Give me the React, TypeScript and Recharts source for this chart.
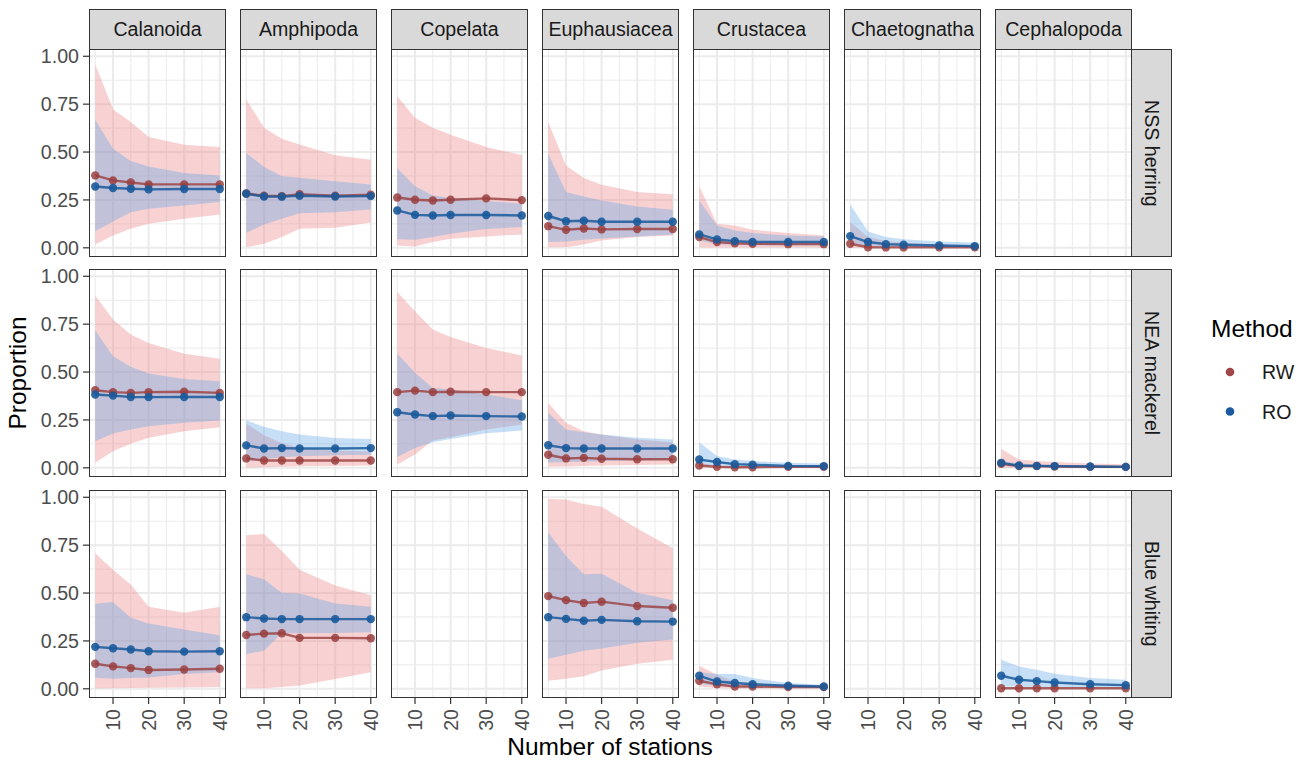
import React from "react";
import { ComposedChart, Area, Line, XAxis, YAxis, CartesianGrid } from "recharts";

// ---------- categories / ticks ----------
const stations = [5, 10, 15, 20, 30, 40];
const taxa = ["Calanoida", "Amphipoda", "Copelata", "Euphausiacea", "Crustacea", "Chaetognatha", "Cephalopoda"];
const stocks = ["NSS herring", "NEA mackerel", "Blue whiting"];
const methods = ["RW", "RO"];
const yTicks = [0, 0.25, 0.5, 0.75, 1];
const yMinor = [0.125, 0.375, 0.625, 0.875];
const xTicks = [10, 20, 30, 40];
const xMinor = [5, 15, 25, 35];

type Est = { mean: number[]; lo: number[]; hi: number[] };

// ---------- NSS herring ----------
const nssCalanoidaRW: Est = { mean: [0.378, 0.352, 0.341, 0.331, 0.331, 0.331], lo: [0.017, 0.064, 0.099, 0.125, 0.152, 0.174], hi: [0.958, 0.723, 0.657, 0.578, 0.538, 0.526] };
const nssCalanoidaRO: Est = { mean: [0.32, 0.312, 0.308, 0.305, 0.307, 0.307], lo: [0.087, 0.138, 0.186, 0.204, 0.221, 0.239], hi: [0.669, 0.517, 0.453, 0.425, 0.39, 0.378] };
const nssAmphipodaRW: Est = { mean: [0.284, 0.272, 0.27, 0.28, 0.272, 0.277], lo: [0.003, 0.021, 0.056, 0.099, 0.105, 0.132], hi: [0.774, 0.627, 0.57, 0.54, 0.483, 0.46] };
const nssAmphipodaRO: Est = { mean: [0.282, 0.268, 0.267, 0.272, 0.268, 0.27], lo: [0.078, 0.122, 0.152, 0.181, 0.186, 0.2], hi: [0.495, 0.422, 0.375, 0.366, 0.348, 0.331] };
const nssCopelataRW: Est = { mean: [0.263, 0.251, 0.247, 0.251, 0.258, 0.249], lo: [0.012, 0.007, 0.03, 0.047, 0.059, 0.07], hi: [0.791, 0.679, 0.627, 0.59, 0.526, 0.484] };
const nssCopelataRO: Est = { mean: [0.195, 0.172, 0.169, 0.171, 0.171, 0.169], lo: [0.045, 0.042, 0.056, 0.073, 0.098, 0.108], hi: [0.416, 0.322, 0.273, 0.261, 0.244, 0.23] };
const nssEuphausiaceaRW: Est = { mean: [0.113, 0.094, 0.101, 0.096, 0.098, 0.098], lo: [0.003, 0.003, 0.017, 0.038, 0.056, 0.064], hi: [0.657, 0.43, 0.364, 0.329, 0.291, 0.279] };
const nssEuphausiaceaRO: Est = { mean: [0.166, 0.139, 0.141, 0.136, 0.136, 0.136], lo: [0.03, 0.033, 0.042, 0.049, 0.059, 0.07], hi: [0.491, 0.291, 0.268, 0.247, 0.216, 0.199] };
const nssCrustaceaRW: Est = { mean: [0.056, 0.03, 0.024, 0.021, 0.019, 0.019], lo: [0.002, 0.002, 0.002, 0.002, 0.002, 0.002], hi: [0.322, 0.125, 0.117, 0.094, 0.077, 0.064] };
const nssCrustaceaRO: Est = { mean: [0.07, 0.044, 0.035, 0.031, 0.03, 0.03], lo: [0.038, 0.017, 0.017, 0.014, 0.014, 0.014], hi: [0.247, 0.117, 0.091, 0.077, 0.064, 0.059] };
const nssChaetognathaRW: Est = { mean: [0.021, 0.003, 0.002, 0.002, 0.003, 0.003], lo: [0, 0, 0, 0, 0, 0], hi: [0.134, 0.056, 0.035, 0.026, 0.017, 0.012] };
const nssChaetognathaRO: Est = { mean: [0.061, 0.03, 0.019, 0.016, 0.012, 0.009], lo: [0.024, 0.009, 0.006, 0.005, 0.005, 0.005], hi: [0.226, 0.085, 0.056, 0.045, 0.033, 0.028] };

// ---------- NEA mackerel ----------
const neaCalanoidaRW: Est = { mean: [0.405, 0.395, 0.391, 0.395, 0.397, 0.391], lo: [0.026, 0.087, 0.125, 0.157, 0.191, 0.212], hi: [0.899, 0.774, 0.696, 0.652, 0.595, 0.569] };
const neaCalanoidaRO: Est = { mean: [0.383, 0.377, 0.37, 0.369, 0.37, 0.37], lo: [0.139, 0.179, 0.2, 0.217, 0.235, 0.247], hi: [0.718, 0.583, 0.527, 0.492, 0.464, 0.452] };
const neaAmphipodaRW: Est = { mean: [0.049, 0.038, 0.038, 0.038, 0.038, 0.038], lo: [0, 0.003, 0.005, 0.008, 0.01, 0.012], hi: [0.23, 0.17, 0.13, 0.105, 0.09, 0.085] };
const neaAmphipodaRO: Est = { mean: [0.117, 0.101, 0.103, 0.101, 0.101, 0.103], lo: [0.03, 0.045, 0.055, 0.06, 0.065, 0.068], hi: [0.248, 0.214, 0.191, 0.174, 0.156, 0.151] };
const neaCopelataRW: Est = { mean: [0.395, 0.403, 0.395, 0.397, 0.395, 0.395], lo: [0.017, 0.07, 0.143, 0.16, 0.2, 0.226], hi: [0.918, 0.817, 0.722, 0.683, 0.626, 0.586] };
const neaCopelataRO: Est = { mean: [0.29, 0.278, 0.27, 0.273, 0.27, 0.268], lo: [0.057, 0.104, 0.134, 0.151, 0.18, 0.195], hi: [0.597, 0.496, 0.417, 0.409, 0.383, 0.353] };
const neaEuphausiaceaRW: Est = { mean: [0.068, 0.049, 0.052, 0.047, 0.045, 0.045], lo: [0.005, 0.007, 0.01, 0.012, 0.015, 0.017], hi: [0.339, 0.235, 0.191, 0.174, 0.148, 0.134] };
const neaEuphausiaceaRO: Est = { mean: [0.118, 0.103, 0.101, 0.101, 0.101, 0.101], lo: [0.026, 0.03, 0.032, 0.035, 0.04, 0.043], hi: [0.287, 0.2, 0.186, 0.174, 0.157, 0.148] };
const neaCrustaceaRW: Est = { mean: [0.012, 0.005, 0.003, 0.003, 0.005, 0.005], lo: [0, 0, 0, 0, 0, 0], hi: [0.026, 0.012, 0.011, 0.01, 0.01, 0.01] };
const neaCrustaceaRO: Est = { mean: [0.043, 0.03, 0.019, 0.016, 0.01, 0.009], lo: [0.017, 0.008, 0.006, 0.005, 0.005, 0.005], hi: [0.134, 0.061, 0.043, 0.035, 0.026, 0.023] };
const neaCephalopodaRW: Est = { mean: [0.021, 0.009, 0.009, 0.007, 0.005, 0.005], lo: [0, 0, 0, 0, 0, 0], hi: [0.099, 0.043, 0.035, 0.03, 0.023, 0.019] };
const neaCephalopodaRO: Est = { mean: [0.026, 0.012, 0.01, 0.009, 0.007, 0.005], lo: [0.012, 0.005, 0.004, 0.003, 0.002, 0.001], hi: [0.035, 0.023, 0.018, 0.015, 0.013, 0.012] };

// ---------- Blue whiting ----------
const bwCalanoidaRW: Est = { mean: [0.131, 0.117, 0.108, 0.098, 0.101, 0.105], lo: [0.002, 0.003, 0.004, 0.005, 0.007, 0.009], hi: [0.708, 0.621, 0.545, 0.428, 0.397, 0.428] };
const bwCalanoidaRO: Est = { mean: [0.219, 0.212, 0.205, 0.196, 0.194, 0.196], lo: [0.058, 0.052, 0.056, 0.059, 0.077, 0.086], hi: [0.444, 0.453, 0.371, 0.341, 0.309, 0.28] };
const bwAmphipodaRW: Est = { mean: [0.281, 0.288, 0.29, 0.266, 0.266, 0.264], lo: [0.003, 0.003, 0.009, 0.017, 0.051, 0.087], hi: [0.802, 0.808, 0.72, 0.621, 0.54, 0.488] };
const bwAmphipodaRO: Est = { mean: [0.374, 0.367, 0.364, 0.364, 0.364, 0.364], lo: [0.182, 0.199, 0.292, 0.29, 0.291, 0.295], hi: [0.598, 0.572, 0.502, 0.498, 0.446, 0.428] };
const bwEuphausiaceaRW: Est = { mean: [0.484, 0.463, 0.448, 0.455, 0.432, 0.423], lo: [0.042, 0.052, 0.065, 0.096, 0.131, 0.152], hi: [0.991, 0.988, 0.965, 0.951, 0.837, 0.734] };
const bwEuphausiaceaRO: Est = { mean: [0.374, 0.365, 0.355, 0.36, 0.353, 0.351], lo: [0.157, 0.178, 0.199, 0.21, 0.24, 0.257], hi: [0.816, 0.694, 0.598, 0.601, 0.502, 0.463] };
const bwCrustaceaRW: Est = { mean: [0.042, 0.023, 0.012, 0.012, 0.009, 0.009], lo: [0.012, 0.004, 0.002, 0.002, 0.002, 0.002], hi: [0.12, 0.073, 0.038, 0.03, 0.021, 0.016] };
const bwCrustaceaRO: Est = { mean: [0.068, 0.038, 0.03, 0.024, 0.016, 0.012], lo: [0.026, 0.015, 0.01, 0.008, 0.006, 0.005], hi: [0.086, 0.077, 0.077, 0.056, 0.03, 0.021] };
const bwCephalopodaRW: Est = { mean: [0.003, 0.003, 0.003, 0.003, 0.003, 0.003], lo: [0, 0, 0, 0, 0, 0], hi: [0.006, 0.006, 0.006, 0.006, 0.006, 0.006] };
const bwCephalopodaRO: Est = { mean: [0.068, 0.047, 0.04, 0.033, 0.024, 0.019], lo: [0.012, 0.01, 0.009, 0.008, 0.007, 0.006], hi: [0.152, 0.117, 0.1, 0.079, 0.056, 0.047] };

type Pair = { rw: Est; ro: Est } | null;
const panelGrid: Pair[][] = [
  [
    { rw: nssCalanoidaRW, ro: nssCalanoidaRO },
    { rw: nssAmphipodaRW, ro: nssAmphipodaRO },
    { rw: nssCopelataRW, ro: nssCopelataRO },
    { rw: nssEuphausiaceaRW, ro: nssEuphausiaceaRO },
    { rw: nssCrustaceaRW, ro: nssCrustaceaRO },
    { rw: nssChaetognathaRW, ro: nssChaetognathaRO },
    null,
  ],
  [
    { rw: neaCalanoidaRW, ro: neaCalanoidaRO },
    { rw: neaAmphipodaRW, ro: neaAmphipodaRO },
    { rw: neaCopelataRW, ro: neaCopelataRO },
    { rw: neaEuphausiaceaRW, ro: neaEuphausiaceaRO },
    { rw: neaCrustaceaRW, ro: neaCrustaceaRO },
    null,
    { rw: neaCephalopodaRW, ro: neaCephalopodaRO },
  ],
  [
    { rw: bwCalanoidaRW, ro: bwCalanoidaRO },
    { rw: bwAmphipodaRW, ro: bwAmphipodaRO },
    null,
    { rw: bwEuphausiaceaRW, ro: bwEuphausiaceaRO },
    { rw: bwCrustaceaRW, ro: bwCrustaceaRO },
    null,
    { rw: bwCephalopodaRW, ro: bwCephalopodaRO },
  ],
];

// ---------- layout / style ----------
const FONT = "'Liberation Sans', Arial, Helvetica, sans-serif";
const PANEL_W = 137;
const PANEL_H = 208;
const COL_STEP = 151;
const PANEL_LEFT = 89;
const ROW_TOPS = [49, 269, 490];
const Y_AXIS_W = 89;
const X_AXIS_H = 60;
const PAD = 14;
const HP = 12;
const X_DOMAIN: [number, number] = [3.25, 41.75];
const Y_DOMAIN: [number, number] = [-0.048, 1.038];
const RW_FILL = "#EE8F8F";
const RO_FILL = "#5BA3E8";
const RW_LINE = "#9A3F3F";
const RO_LINE = "#1A5A9B";
const GRID = "#EBEBEB";
const BORDER = "#333333";
const TICK_TEXT = "#4D4D4D";
const SMALL = 19.6;
const BIG = 24.5;

const XTick = (props: any) => {
  const { x, y, payload } = props;
  return (
    <text
      x={x}
      y={y}
      transform={`rotate(-90 ${x} ${y})`}
      textAnchor="end"
      dominantBaseline="central"
      fill={TICK_TEXT}
      fontSize={SMALL}
      fontFamily={FONT}
    >
      {payload.value}
    </text>
  );
};

function Panel({ row, col }: { row: number; col: number }) {
  const est = panelGrid[row][col];
  const data = stations.map((x, i) => ({
    x,
    rwMean: est ? est.rw.mean[i] : null,
    rwLo: est ? est.rw.lo[i] : null,
    rwHi: est ? est.rw.hi[i] : null,
    roMean: est ? est.ro.mean[i] : null,
    roLo: est ? est.ro.lo[i] : null,
    roHi: est ? est.ro.hi[i] : null,
  }));
  const showY = col === 0;
  const showX = row === 2;
  const padBottom = showX ? 0 : PAD;
  const yW = showY ? Y_AXIS_W : 0;
  const width = PANEL_W + 2 * HP + yW;
  const height = PAD + PANEL_H + (showX ? X_AXIS_H : padBottom);
  const left = PANEL_LEFT + col * COL_STEP - yW - HP;
  const top = ROW_TOPS[row] - PAD;
  return (
    <div style={{ position: "absolute", left, top, width, height }}>
      <ComposedChart width={width} height={height} data={data} margin={{ top: PAD, right: HP, bottom: padBottom, left: HP }}>
        <XAxis
          type="number"
          dataKey="x"
          domain={X_DOMAIN}
          allowDataOverflow
          ticks={xTicks}
          interval={0}
          hide={!showX}
          height={X_AXIS_H}
          tickSize={6}
          tickMargin={5}
          axisLine={false}
          tickLine={{ stroke: BORDER, strokeWidth: 1.2 }}
          tick={<XTick />}
        />
        <YAxis
          type="number"
          domain={Y_DOMAIN}
          allowDataOverflow
          ticks={yTicks}
          interval={0}
          hide={!showY}
          width={Y_AXIS_W}
          tickSize={6}
          tickMargin={4}
          axisLine={false}
          tickLine={{ stroke: BORDER, strokeWidth: 1.2 }}
          tickFormatter={(v: number) => v.toFixed(2)}
          tick={{ fill: TICK_TEXT, fontSize: SMALL, fontFamily: FONT }}
        />
        <CartesianGrid horizontalValues={yMinor} verticalValues={xMinor} stroke={GRID} strokeWidth={1} />
        <CartesianGrid horizontalValues={yTicks} verticalValues={xTicks} stroke={GRID} strokeWidth={2} />
        {est && (
          <Area
            type="linear"
            dataKey={(d: any) => [d.rwLo, d.rwHi]}
            stroke="none"
            fill={RW_FILL}
            fillOpacity={0.4}
            isAnimationActive={false}
            activeDot={false}
          />
        )}
        {est && (
          <Area
            type="linear"
            dataKey={(d: any) => [d.roLo, d.roHi]}
            stroke="none"
            fill={RO_FILL}
            fillOpacity={0.35}
            isAnimationActive={false}
            activeDot={false}
          />
        )}
        {est && (
          <Line
            type="linear"
            dataKey="rwMean"
            stroke={RW_LINE}
            strokeWidth={2.4}
            strokeOpacity={0.8}
            dot={{ r: 4.2, fill: RW_LINE, stroke: "none", fillOpacity: 0.85 }}
            activeDot={false}
            isAnimationActive={false}
          />
        )}
        {est && (
          <Line
            type="linear"
            dataKey="roMean"
            stroke={RO_LINE}
            strokeWidth={2.4}
            strokeOpacity={0.85}
            dot={{ r: 4.2, fill: RO_LINE, stroke: "none", fillOpacity: 0.9 }}
            activeDot={false}
            isAnimationActive={false}
          />
        )}
      </ComposedChart>
      <div
        style={{
          position: "absolute",
          left: HP + yW,
          top: PAD,
          width: PANEL_W,
          height: PANEL_H,
          boxSizing: "border-box",
          border: `1.3px solid ${BORDER}`,
          pointerEvents: "none",
        }}
      />
    </div>
  );
}

export default function App() {
  const panels: React.ReactNode[] = [];
  for (let r = 0; r < stocks.length; r++) {
    for (let c = 0; c < taxa.length; c++) {
      panels.push(<Panel key={`${r}-${c}`} row={r} col={c} />);
    }
  }
  return (
    <div
      style={{
        position: "absolute",
        left: 0,
        top: 0,
        width: 1308,
        height: 763,
        background: "#FFFFFF",
        fontFamily: FONT,
        overflow: "hidden",
      }}
    >
      {panels}
      {taxa.map((t, c) => (
        <div
          key={t}
          style={{
            position: "absolute",
            left: PANEL_LEFT + c * COL_STEP,
            top: 9,
            width: PANEL_W,
            height: 41,
            boxSizing: "border-box",
            background: "#D9D9D9",
            border: `1.3px solid ${BORDER}`,
            color: "#1A1A1A",
            fontSize: SMALL,
            display: "flex",
            alignItems: "center",
            justifyContent: "center",
            whiteSpace: "nowrap",
          }}
        >
          {t}
        </div>
      ))}
      {stocks.map((s, r) => (
        <div
          key={s}
          style={{
            position: "absolute",
            left: PANEL_LEFT + 6 * COL_STEP + PANEL_W - 1,
            top: ROW_TOPS[r],
            width: 41,
            height: PANEL_H,
            boxSizing: "border-box",
            background: "#D9D9D9",
            border: `1.3px solid ${BORDER}`,
            color: "#1A1A1A",
            fontSize: SMALL,
            display: "flex",
            alignItems: "center",
            justifyContent: "center",
          }}
        >
          <span style={{ writingMode: "vertical-rl", whiteSpace: "nowrap" }}>{s}</span>
        </div>
      ))}
      <svg style={{ position: "absolute", left: 0, top: 0 }} width={1308} height={763} pointerEvents="none">
        <text
          x={26}
          y={373}
          transform="rotate(-90 26 373)"
          textAnchor="middle"
          fontSize={BIG}
          fontFamily={FONT}
          fill="#000000"
        >
          Proportion
        </text>
        <text x={610} y={755} textAnchor="middle" fontSize={BIG} fontFamily={FONT} fill="#000000">
          Number of stations
        </text>
        <text x={1211} y={337} fontSize={BIG} fontFamily={FONT} fill="#000000">
          Method
        </text>
        {methods.map((m, i) => (
          <g key={m}>
            <circle cx={1230} cy={372 + i * 39.5} r={4.3} fill={i === 0 ? "#A04848" : "#1A5AA0"} />
            <text x={1262} y={379 + i * 39.5} fontSize={SMALL} fontFamily={FONT} fill="#1A1A1A">
              {m}
            </text>
          </g>
        ))}
      </svg>
    </div>
  );
}
